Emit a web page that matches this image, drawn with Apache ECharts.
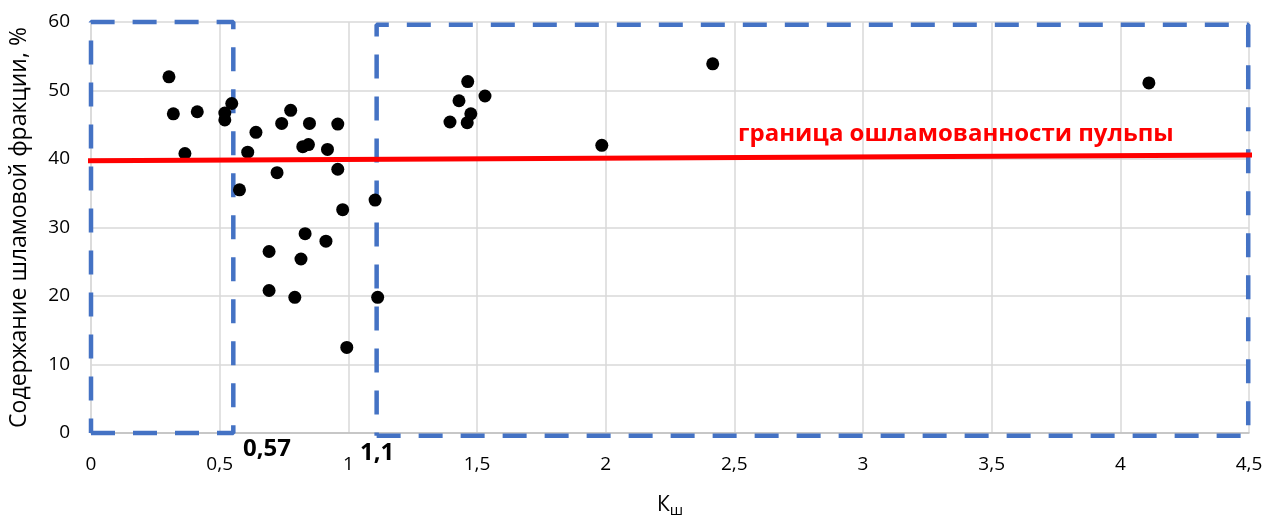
<!DOCTYPE html>
<html>
<head>
<meta charset="utf-8">
<script src="https://cdn.jsdelivr.net/npm/echarts@6/dist/echarts.min.js"></script>
<style>html,body{margin:0;padding:0;background:#fff}#c{width:1280px;height:523px}</style>
</head>
<body>
<div id="c"></div>
<script>
// Data points: [Кш, содержание шламовой фракции %]
const kshValues = [0.303,0.320,0.413,0.365,0.520,0.520,0.547,0.577,0.609,0.641,0.723,0.741,0.776,0.849,0.959,0.823,0.845,0.919,0.959,1.104,0.978,0.832,0.913,0.692,0.816,0.692,0.792,1.114,0.994,1.464,1.430,1.531,1.476,1.462,1.395,1.985,2.416,4.111];
const slimeValues = [52.0,46.6,46.9,40.8,46.7,45.7,48.1,35.5,41.0,43.9,38.0,45.2,47.1,45.2,45.1,41.8,42.1,41.4,38.5,34.0,32.6,29.1,28.0,26.5,25.4,20.8,19.8,19.8,12.5,51.3,48.5,49.2,46.6,45.3,45.4,42.0,53.9,51.1];
// Boundary line (граница ошламованности)
const boundaryX = [-0.02, 4.535];
const boundaryY = [39.75, 40.6];
// Dashed zones
const zone1X = [0, 0.553, 0.553, 0, 0];
const zone1Y = [0, 0, 60, 60, 0];
const zone2X = [1.110, 4.497, 4.497, 1.110, 1.110];
const zone2Y = [-0.4, -0.4, 59.6, 59.6, -0.4];
// Annotation labels
const annotText = ['0,57', '1,1'];
const annotX = [0.684, 1.112];
const annotY = [-2.3, -3.0];
const boundaryLabel = 'граница ошламованности пульпы';
const boundaryLabelX = 3.361, boundaryLabelY = 43.6;
// Ticks
const xMin = 0, xMax = 4.5, xStep = 0.5;
const yMin = 0, yMax = 60, yStep = 10;

const zip = (a, b) => a.map((v, i) => [v, b[i]]);
const font = '"Open Sans", "Noto Sans", sans-serif';

const chart = echarts.init(document.getElementById('c'), null, {renderer: 'canvas'});
chart.setOption({
  animation: false,
  grid: {left: 91, right: 31, top: 22, bottom: 90},
  xAxis: {
    type: 'value', min: xMin, max: xMax, interval: xStep,
    axisLine: {show: true, lineStyle: {color: '#bfbfbf', width: 1.5}},
    axisTick: {show: false},
    splitLine: {show: true, lineStyle: {color: '#d9d9d9', width: 1.5}},
    axisLabel: {margin: 22, fontSize: 19, color: '#000', fontFamily: font,
      formatter: v => String(v).replace('.', ',')},
    name: '{a|К}{b|ш}', nameLocation: 'middle', nameGap: 60,
    nameTextStyle: {rich: {
      a: {fontSize: 21, color: '#000', fontFamily: font},
      b: {fontSize: 15, color: '#000', fontFamily: font, padding: [10, 0, 0, 0]}
    }}
  },
  yAxis: {
    type: 'value', min: yMin, max: yMax, interval: yStep,
    axisLine: {show: true, lineStyle: {color: '#d9d9d9', width: 1.5}},
    axisTick: {show: false},
    splitLine: {show: true, lineStyle: {color: '#d9d9d9', width: 1.5}},
    axisLabel: {margin: 21, fontSize: 19, color: '#000', fontFamily: font},
    name: 'Содержание шламовой фракции, %', nameLocation: 'middle', nameGap: 60,
    nameTextStyle: {fontSize: 23, color: '#000', fontFamily: font}
  },
  series: [
    {
      type: 'line', data: zip(zone1X, zone1Y), symbol: 'none', clip: false, z: 3,
      lineStyle: {color: '#4472C4', width: 4.5, type: [24, 18]}
    },
    {
      type: 'line', data: zip(zone2X, zone2Y), symbol: 'none', clip: false, z: 3,
      lineStyle: {color: '#4472C4', width: 4.5, type: [24, 18]}
    },
    {
      type: 'scatter', data: zip(kshValues, slimeValues), symbolSize: 13, z: 4,
      itemStyle: {color: '#000', opacity: 1}
    },
    {
      type: 'line', data: zip(boundaryX, boundaryY), symbol: 'none', clip: false, z: 5,
      lineStyle: {color: '#ff0000', width: 5}
    },
    {
      type: 'scatter', data: [[boundaryLabelX, boundaryLabelY]], symbolSize: 0, clip: false, z: 6,
      itemStyle: {opacity: 1},
      label: {show: true, position: 'inside', formatter: boundaryLabel,
        fontSize: 24, fontWeight: 'bold', color: '#ff0000', fontFamily: font}
    },
    {
      type: 'scatter', data: annotX.map((x, i) => ({value: [x, annotY[i]], name: annotText[i]})),
      symbolSize: 0, clip: false, z: 6,
      itemStyle: {opacity: 1},
      label: {show: true, position: 'inside', formatter: p => p.name,
        fontSize: 24, fontWeight: 'bold', color: '#000', fontFamily: font}
    }
  ]
});
</script>
</body>
</html>
